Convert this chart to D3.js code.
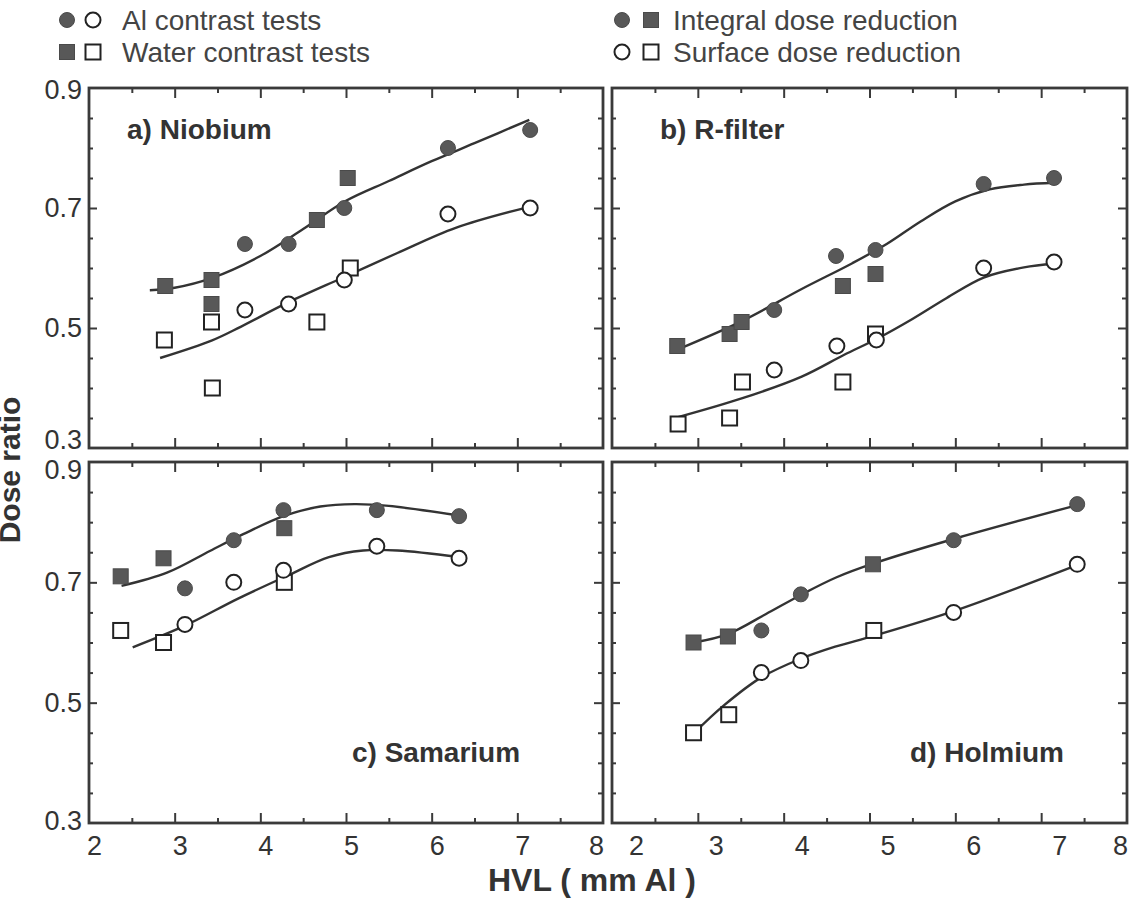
<!DOCTYPE html>
<html><head><meta charset="utf-8">
<script src="https://cdn.jsdelivr.net/npm/d3@7"></script>
<style>body{margin:0;background:#fff}svg{display:block}</style>
</head><body>
<script>
// ---------- tick labels ----------
const hvlTicks = [2, 3, 4, 5, 6, 7, 8];
const hvlMinor = [2.5, 3.5, 4.5, 5.5, 6.5, 7.5];
const doseTicks = [0.3, 0.5, 0.7, 0.9];
const doseMinor = [0.35, 0.4, 0.45, 0.55, 0.6, 0.65, 0.75, 0.8, 0.85];

// ---------- a) Niobium ----------
const nbAlIntegral   = [[3.82,0.64],[4.33,0.64],[4.98,0.70],[6.19,0.80],[7.15,0.83]];
const nbWaterIntegral= [[2.89,0.57],[3.43,0.58],[3.43,0.54],[4.66,0.68],[5.02,0.75]];
const nbAlSurface    = [[3.82,0.53],[4.33,0.54],[4.98,0.58],[6.19,0.69],[7.15,0.70]];
const nbWaterSurface = [[2.88,0.48],[3.43,0.51],[3.44,0.40],[4.66,0.51],[5.05,0.60]];
const nbIntegralFit  = [[2.71,0.563],[3.0,0.567],[3.43,0.583],[4.0,0.62],[4.5,0.665],[5.0,0.712],[5.5,0.745],[6.0,0.778],[6.5,0.808],[7.14,0.847]];
const nbSurfaceFit   = [[2.83,0.45],[3.43,0.479],[3.77,0.502],[4.33,0.543],[4.98,0.585],[5.6,0.625],[6.28,0.667],[7.14,0.702]];

// ---------- b) R-filter ----------
const rfAlIntegral   = [[3.89,0.53],[4.61,0.62],[5.07,0.63],[6.33,0.74],[7.15,0.75]];
const rfWaterIntegral= [[2.76,0.47],[3.37,0.49],[3.51,0.51],[4.69,0.57],[5.07,0.59]];
const rfAlSurface    = [[3.89,0.43],[4.62,0.47],[5.08,0.48],[6.33,0.60],[7.15,0.61]];
const rfWaterSurface = [[2.77,0.34],[3.37,0.35],[3.52,0.41],[4.69,0.41],[5.07,0.49]];
const rfIntegralFit  = [[2.76,0.464],[3.52,0.512],[4.21,0.565],[4.8,0.608],[5.2,0.64],[5.6,0.678],[6.0,0.711],[6.4,0.731],[6.8,0.739],[7.15,0.742]];
const rfSurfaceFit   = [[2.76,0.351],[3.52,0.383],[4.21,0.419],[4.7,0.455],[5.1,0.483],[5.5,0.515],[5.9,0.55],[6.33,0.584],[6.8,0.601],[7.15,0.607]];

// ---------- c) Samarium ----------
const smAlIntegral   = [[3.12,0.69],[3.69,0.77],[4.27,0.82],[5.36,0.82],[6.32,0.81]];
const smWaterIntegral= [[2.37,0.71],[2.87,0.74],[4.28,0.79]];
const smAlSurface    = [[3.12,0.63],[3.69,0.70],[4.27,0.72],[5.36,0.76],[6.32,0.74]];
const smWaterSurface = [[2.37,0.62],[2.87,0.60],[4.28,0.70]];
const smIntegralFit  = [[2.38,0.694],[2.91,0.716],[3.41,0.752],[3.8,0.78],[4.27,0.81],[4.7,0.826],[5.1,0.83],[5.5,0.827],[6.32,0.811]];
const smSurfaceFit   = [[2.51,0.592],[3.12,0.628],[3.74,0.673],[4.33,0.712],[4.8,0.742],[5.2,0.753],[5.6,0.753],[6.32,0.742]];

// ---------- d) Holmium ----------
const hoAlIntegral   = [[3.74,0.62],[4.20,0.68],[5.98,0.77],[7.42,0.83]];
const hoWaterIntegral= [[2.95,0.60],[3.35,0.61],[5.04,0.73]];
const hoAlSurface    = [[3.74,0.55],[4.20,0.57],[5.98,0.65],[7.42,0.73]];
const hoWaterSurface = [[2.95,0.45],[3.36,0.48],[5.05,0.62]];
const hoIntegralFit  = [[2.95,0.60],[3.35,0.614],[3.79,0.647],[4.20,0.679],[4.61,0.708],[5.04,0.731],[5.98,0.772],[7.41,0.828]];
const hoSurfaceFit   = [[2.96,0.45],[3.3,0.495],[3.74,0.542],[4.20,0.573],[4.6,0.593],[5.05,0.611],[5.98,0.652],[7.41,0.728]];

const panelTitles = ["a) Niobium", "b) R-filter", "c) Samarium", "d) Holmium"];
const legendLeft  = ["Al contrast tests", "Water contrast tests"];
const legendRight = ["Integral dose reduction", "Surface dose reduction"];

const W = 1137, H = 898;
const INK = "#3a3a3a", FILL = "#585858";
const FONT = "'Liberation Sans', Arial, Helvetica, sans-serif";

const svg = d3.select("body").append("svg").attr("width", W).attr("height", H)
  .style("font-family", FONT);

const panels = [
  {title: panelTitles[0], box:[89,603,88,448], yLabels:true, xLabels:false, titlePos:[127,139], labelShift:0, yNudge:{0.3:-8, 0.9:2},
   ai:nbAlIntegral, wi:nbWaterIntegral, as:nbAlSurface, ws:nbWaterSurface, fi:nbIntegralFit, fs:nbSurfaceFit},
  {title: panelTitles[1], box:[612,1127,88,448], yLabels:false, xLabels:false, titlePos:[660,139], labelShift:0, yNudge:{},
   ai:rfAlIntegral, wi:rfWaterIntegral, as:rfAlSurface, ws:rfWaterSurface, fi:rfIntegralFit, fs:rfSurfaceFit},
  {title: panelTitles[2], box:[89,603,462,823], yLabels:true, xLabels:true, titlePos:[352,762], labelShift:5, yNudge:{0.9:8, 0.3:-2},
   ai:smAlIntegral, wi:smWaterIntegral, as:smAlSurface, ws:smWaterSurface, fi:smIntegralFit, fs:smSurfaceFit},
  {title: panelTitles[3], box:[612,1127,462,823], yLabels:false, xLabels:true, titlePos:[910,762], labelShift:18, yNudge:{},
   ai:hoAlIntegral, wi:hoWaterIntegral, as:hoAlSurface, ws:hoWaterSurface, fi:hoIntegralFit, fs:hoSurfaceFit}
];

const R = 7.5, S = 15;

function drawCircle(g, cx, cy, filled) {
  g.append("circle").attr("cx", cx).attr("cy", cy).attr("r", R)
    .attr("fill", filled ? FILL : "#fff").attr("stroke", filled ? "#4a4a4a" : "#222")
    .attr("stroke-width", filled ? 1 : 2);
}
function drawSquare(g, cx, cy, filled) {
  g.append("rect").attr("x", cx - S/2).attr("y", cy - S/2).attr("width", S).attr("height", S)
    .attr("fill", filled ? FILL : "#fff").attr("stroke", filled ? "#4a4a4a" : "#222")
    .attr("stroke-width", filled ? 1 : 2);
}

panels.forEach(p => {
  const [x0, x1, y0, y1] = p.box;
  const x = d3.scaleLinear().domain([2, 8]).range([x0, x1]);
  const y = d3.scaleLinear().domain([0.3, 0.9]).range([y1, y0]);
  const g = svg.append("g");

  const styleAxis = sel => {
    sel.select(".domain").remove();
    sel.selectAll(".tick line").attr("stroke", INK).attr("stroke-width", 2);
    sel.selectAll("text").attr("fill", "#333").style("font-size", "27px").style("font-family", FONT);
  };
  const inner = v => v > 2 && v < 8;
  // bottom / top x ticks
  g.append("g").attr("transform", `translate(0,${y1})`)
    .call(d3.axisBottom(x).tickValues(hvlTicks).tickSize(-10).tickPadding(13)
      .tickFormat(p.xLabels ? d3.format("d") : () => ""))
    .call(styleAxis)
    .call(s => s.selectAll(".tick").filter(d => !inner(d)).select("line").remove())
    .call(s => s.selectAll(".tick text").attr("dx", d => d === 8 ? -7 : (d === 2 ? p.labelShift + (p.labelShift > 10 ? 6 : 0) : p.labelShift)));
  g.append("g").attr("transform", `translate(0,${y1})`)
    .call(d3.axisBottom(x).tickValues(hvlMinor).tickSize(-5).tickFormat(() => "")).call(styleAxis);
  g.append("g").attr("transform", `translate(0,${y0})`)
    .call(d3.axisTop(x).tickValues(hvlTicks.filter(inner)).tickSize(-10).tickFormat(() => "")).call(styleAxis);
  g.append("g").attr("transform", `translate(0,${y0})`)
    .call(d3.axisTop(x).tickValues(hvlMinor).tickSize(-5).tickFormat(() => "")).call(styleAxis);
  // left / right y ticks
  g.append("g").attr("transform", `translate(${x0},0)`)
    .call(d3.axisLeft(y).tickValues(doseTicks).tickSize(-8).tickPadding(7)
      .tickFormat(p.yLabels ? d3.format(".1f") : () => ""))
    .call(styleAxis)
    .call(s => s.selectAll(".tick").filter(d => d <= 0.3 || d >= 0.9).select("line").remove())
    .call(s => s.selectAll(".tick text").attr("y", d => p.yNudge[d] || 0));
  g.append("g").attr("transform", `translate(${x0},0)`)
    .call(d3.axisLeft(y).tickValues(doseMinor).tickSize(-4).tickFormat(() => "")).call(styleAxis);
  g.append("g").attr("transform", `translate(${x1},0)`)
    .call(d3.axisRight(y).tickValues(doseTicks.filter(d => d > 0.3 && d < 0.9)).tickSize(-9).tickFormat(() => "")).call(styleAxis);
  g.append("g").attr("transform", `translate(${x1},0)`)
    .call(d3.axisRight(y).tickValues(doseMinor).tickSize(-5).tickFormat(() => "")).call(styleAxis);

  // frame
  g.append("rect").attr("x", x0).attr("y", y0).attr("width", x1 - x0).attr("height", y1 - y0)
    .attr("fill", "none").attr("stroke", INK).attr("stroke-width", 2.8);

  // fits
  const line = d3.line().x(d => x(d[0])).y(d => y(d[1])).curve(d3.curveCatmullRom.alpha(0.5));
  [p.fi, p.fs].forEach(f => g.append("path").attr("d", line(f))
    .attr("fill", "none").attr("stroke", "#333").attr("stroke-width", 2.4));

  // markers
  p.wi.forEach(d => drawSquare(g, x(d[0]), y(d[1]), true));
  p.ws.forEach(d => drawSquare(g, x(d[0]), y(d[1]), false));
  p.ai.forEach(d => drawCircle(g, x(d[0]), y(d[1]), true));
  p.as.forEach(d => drawCircle(g, x(d[0]), y(d[1]), false));

  // title
  g.append("text").attr("x", p.titlePos[0]).attr("y", p.titlePos[1]).text(p.title)
    .attr("fill", "#333").style("font-size", "28px").style("font-weight", "bold");
});

// axis titles
svg.append("text").attr("x", 592).attr("y", 891).attr("text-anchor", "middle")
  .text("HVL ( mm Al )").attr("fill", "#333").style("font-size", "32px").style("font-weight", "bold");
svg.append("text").attr("transform", "translate(20,470) rotate(-90)").attr("text-anchor", "middle")
  .text("Dose ratio").attr("fill", "#333").style("font-size", "30px").style("font-weight", "bold");

// legend
const lg = svg.append("g");
drawCircle(lg, 67, 20, true);  drawCircle(lg, 93, 20, false);
drawSquare(lg, 67, 52, true);  drawSquare(lg, 93, 52, false);
drawCircle(lg, 622, 20, true); drawSquare(lg, 651, 20, true);
drawCircle(lg, 622, 52, false); drawSquare(lg, 651, 52, false);
legendLeft.forEach((t, i) => lg.append("text").attr("x", 122).attr("y", 20 + 32*i).attr("dy", "0.36em")
  .text(t).attr("fill", "#444").style("font-size", "28px"));
legendRight.forEach((t, i) => lg.append("text").attr("x", 673).attr("y", 20 + 32*i).attr("dy", "0.36em")
  .text(t).attr("fill", "#444").style("font-size", "28px"));
</script>
</body></html>
